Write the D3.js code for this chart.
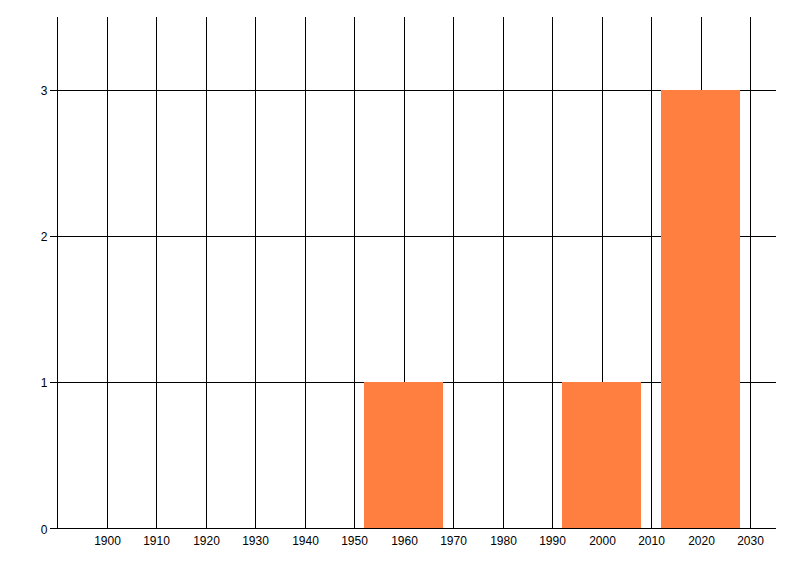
<!DOCTYPE html>
<html><head><meta charset="utf-8">
<script src="https://cdn.jsdelivr.net/npm/d3@7"></script>
<style>
html,body{margin:0;padding:0;background:#fff;}
text{font-family:"Liberation Sans Narrow","Liberation Sans",Arial,sans-serif;font-size:12px;fill:#000;}
</style></head>
<body>
<svg id="c" width="800" height="576"></svg>
<script>
const years = [1960, 2000, 2020];
const counts = [1, 1, 3];
const xTicks = [1900, 1910, 1920, 1930, 1940, 1950, 1960, 1970, 1980, 1990, 2000, 2010, 2020, 2030];
const yTicks = [0, 1, 2, 3];
const binWidth = 16;

(function () {
const svg = d3.select("#c");
const pTop = 17, pBottom = 528.5, pRightEnd = 776;
const x = d3.scaleLinear().domain([1890, 2035]).range([57.81, 775.45]);
const y = d3.scaleLinear().domain([0, 3.5]).range([pBottom, pTop]);
const px = v => Math.floor(x(v)) + 0.5;
const py = v => Math.round(y(v)) + 0.5;
const axX = px(1890);

const g = svg.append("g");
g.selectAll("line.vg").data(xTicks).join("line")
  .attr("x1", px).attr("x2", px).attr("y1", pTop).attr("y2", pBottom)
  .attr("stroke", "#000").attr("stroke-width", 1);
g.selectAll("line.hg").data(yTicks.filter(d => d > 0)).join("line")
  .attr("x1", 50).attr("x2", pRightEnd).attr("y1", py).attr("y2", py)
  .attr("stroke", "#000").attr("stroke-width", 1);

svg.append("g").selectAll("rect").data(years.map((yr, i) => ({yr, c: counts[i]}))).join("rect")
  .attr("x", d => Math.floor(x(d.yr - binWidth / 2)))
  .attr("width", d => Math.floor(x(d.yr + binWidth / 2)) - Math.floor(x(d.yr - binWidth / 2)))
  .attr("y", d => Math.round(y(d.c)))
  .attr("height", d => Math.round(y(0)) - Math.round(y(d.c)))
  .attr("fill", "#ff7f40");

svg.append("line").attr("x1", axX).attr("x2", axX).attr("y1", pTop).attr("y2", pBottom).attr("stroke", "#000");
svg.append("line").attr("x1", 50).attr("x2", pRightEnd).attr("y1", pBottom).attr("y2", pBottom).attr("stroke", "#000");

svg.append("g").selectAll("text").data(xTicks).join("text")
  .attr("x", d => px(d)).attr("y", 545)
  .attr("text-anchor", "middle").text(d => d);
svg.append("g").selectAll("text").data(yTicks).join("text")
  .attr("x", 47.5).attr("y", d => Math.round(y(d)) + 4.5)
  .attr("text-anchor", "end").text(d => d);
})();
</script>
</body></html>
